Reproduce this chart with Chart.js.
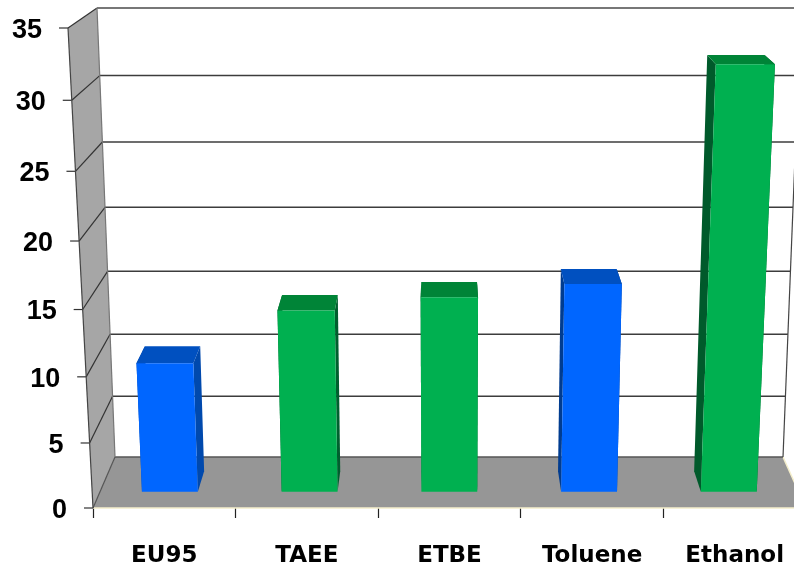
<!DOCTYPE html>
<html>
<head>
<meta charset="utf-8">
<title>Chart</title>
<script src="https://cdn.jsdelivr.net/npm/chart.js@4"></script>
<style>
  html, body { margin: 0; padding: 0; background: #fff; overflow: hidden; }
  #wrap { width: 794px; height: 566px; overflow: hidden; }
  canvas { display: block; }
</style>
</head>
<body>
<div id="wrap"><canvas id="chart-area" width="830" height="566"></canvas></div>
<script>
// data
var categories = ['EU95', 'TAEE', 'ETBE', 'Toluene', 'Ethanol'];
var values = [10, 14, 15, 16, 32];
var frontColors = ['#0066ff', '#00b050', '#00b050', '#0066ff', '#00b050'];
var topColors = ['#0050c0', '#008437', '#008437', '#0050c0', '#008437'];
var sideColors = ['#0049ad', '#005f2e', '#005f2e', '#003c90', '#005a2b'];

// perspective of the value axis: higher values are spread a bit more
var WARP = 0.94;
function warp(t) { return t * WARP / (1 - t + t * WARP); }

class PerspectiveScale extends Chart.LinearScale {
    getPixelForValue(value) {
        return this.bottom - (this.bottom - this.top) * warp(value / this.max);
    }
    // tick labels follow the slanted front edge
    _computeLabelItems(chartArea) {
        var items = super._computeLabelItems(chartArea);
        var that = this;
        items.forEach(function (item) {
            var p = (that.bottom - item.options.translation[1]) / (that.bottom - that.top);
            item.options.translation[0] -= 25 * p;
            item.options.translation[1] += 2.5;
        });
        return items;
    }
}
PerspectiveScale.id = 'perspective';
PerspectiveScale.defaults = Chart.LinearScale.defaults;
Chart.register(PerspectiveScale);

// scale pixel + depth (0 front, 1 back wall) -> screen point
function project(area, xPx, yPx, d) {
    var p = (area.bottom - yPx) / (area.bottom - area.top);
    var u = (xPx - area.left) / (area.right - area.left);
    var fl = area.left - 25 * p, fr = area.right + 25 * p;
    var bl = area.left + 22 - 18 * p, br = area.right - 23 + 18 * p;
    var by = area.bottom - 51 - 449 * p;
    var fx = fl + (fr - fl) * u, bx = bl + (br - bl) * u;
    return { x: fx + (bx - fx) * d, y: yPx + (by - yPx) * d };
}

function poly(ctx, pts, fill) {
    ctx.beginPath();
    pts.forEach(function (q, i) { if (i) ctx.lineTo(q.x, q.y); else ctx.moveTo(q.x, q.y); });
    ctx.closePath();
    ctx.fillStyle = fill;
    ctx.fill();
}

function line(ctx, a, b, color, width) {
    ctx.beginPath();
    ctx.moveTo(a.x, a.y);
    ctx.lineTo(b.x, b.y);
    ctx.strokeStyle = color;
    ctx.lineWidth = width;
    ctx.stroke();
}

var FRONT_TOP = 28;
var BAR_FRONT = 0.32, BAR_BACK = 0.72;

var box3d = {
    id: 'box3d',
    // the label padding keeps the plot lower than the front edge needs
    afterLayout: function (chart) {
        chart.chartArea.top = FRONT_TOP;
        chart.chartArea.height = chart.chartArea.bottom - FRONT_TOP;
        chart.scales.y.top = FRONT_TOP;
        chart.scales.y.height = chart.chartArea.height;
    },
    beforeDatasetsDraw: function (chart) {
        var ctx = chart.ctx, a = chart.chartArea, ys = chart.scales.y;
        var L = a.left, R = a.right, T = a.top, B = a.bottom;
        ctx.save();
        // side wall and floor
        poly(ctx, [project(a, L, B, 0), project(a, L, T, 0), project(a, L, T, 1), project(a, L, B, 1)], '#a6a6a6');
        poly(ctx, [project(a, L, B, 0), project(a, L, B, 1), project(a, R, B, 1), project(a, R, B, 0)], '#969696');
        line(ctx, project(a, L, B, 0), project(a, R, B, 0), '#f4eecb', 1.5);
        line(ctx, project(a, R, B, 1), project(a, R, B, 0), '#f4eecb', 1.5);
        // grid lines
        ys.ticks.forEach(function (tick) {
            var y = ys.getPixelForValue(tick.value);
            var top = tick.value === ys.max, bottom = tick.value === ys.min;
            var color = top ? '#777777' : (bottom ? '#555555' : '#3c3c3c');
            var edge = project(a, L, y, 0);
            line(ctx, { x: edge.x - 9, y: edge.y }, edge, '#333333', 1.2);
            line(ctx, edge, project(a, L, y, 1), bottom ? '#555555' : '#333333', 1.2);
            line(ctx, project(a, L, y, 1), project(a, R, y, 1), color, top ? 2 : 1.5);
        });
        // wall edges
        line(ctx, project(a, L, B, 0), project(a, L, T, 0), '#444444', 1.2);
        line(ctx, project(a, L, B, 1), project(a, L, T, 1), '#777777', 1.2);
        line(ctx, project(a, R, B, 1), project(a, R, T, 1), '#444444', 1.2);
        ctx.restore();
    },
    beforeDatasetDraw: function () {
        return false; // bars are drawn as boxes below
    },
    afterDatasetsDraw: function (chart) {
        var ctx = chart.ctx, a = chart.chartArea;
        ctx.save();
        chart.getDatasetMeta(0).data.forEach(function (bar, i) {
            var x0 = bar.x - bar.width / 2, x1 = bar.x + bar.width / 2;
            var p = function (x, y, d) { return project(a, x, y, d); };
            // sides first, the front face covers whatever is hidden
            poly(ctx, [p(x0, bar.base, BAR_FRONT), p(x0, bar.y, BAR_FRONT), p(x0, bar.y, BAR_BACK), p(x0, bar.base, BAR_BACK)], sideColors[i]);
            poly(ctx, [p(x1, bar.base, BAR_FRONT), p(x1, bar.y, BAR_FRONT), p(x1, bar.y, BAR_BACK), p(x1, bar.base, BAR_BACK)], sideColors[i]);
            poly(ctx, [p(x0, bar.y, BAR_FRONT), p(x0, bar.y, BAR_BACK), p(x1, bar.y, BAR_BACK), p(x1, bar.y, BAR_FRONT)], topColors[i]);
            poly(ctx, [p(x0, bar.base, BAR_FRONT), p(x0, bar.y, BAR_FRONT), p(x1, bar.y, BAR_FRONT), p(x1, bar.base, BAR_FRONT)], frontColors[i]);
        });
        ctx.restore();
    }
};

new Chart(document.getElementById('chart-area').getContext('2d'), {
    type: 'bar',
    data: {
        labels: categories,
        datasets: [{
            data: values,
            backgroundColor: frontColors,
            barPercentage: 0.4,
            categoryPercentage: 1
        }]
    },
    options: {
        responsive: false,
        animation: false,
        layout: { padding: { top: 13, right: 24, left: 0, bottom: 0 } },
        plugins: { legend: { display: false }, tooltip: { enabled: false } },
        scales: {
            x: {
                grid: { drawOnChartArea: false, offset: true, tickColor: '#222222', tickLength: 10, tickWidth: 1.2 },
                border: { display: false },
                ticks: { color: '#000', padding: 24, maxRotation: 0, font: { family: 'DejaVu Sans', weight: 'bold', size: 23 } },
                afterFit: function (scale) { scale.height = 58; }
            },
            y: {
                type: 'perspective',
                min: 0,
                max: 35,
                grid: { display: false, drawTicks: false },
                border: { display: false },
                ticks: { stepSize: 5, color: '#000', padding: 26, font: { family: 'Liberation Sans', weight: 'bold', size: 27 } },
                afterFit: function (scale) { scale.width = 93; }
            }
        }
    },
    plugins: [box3d]
});
</script>
</body>
</html>
